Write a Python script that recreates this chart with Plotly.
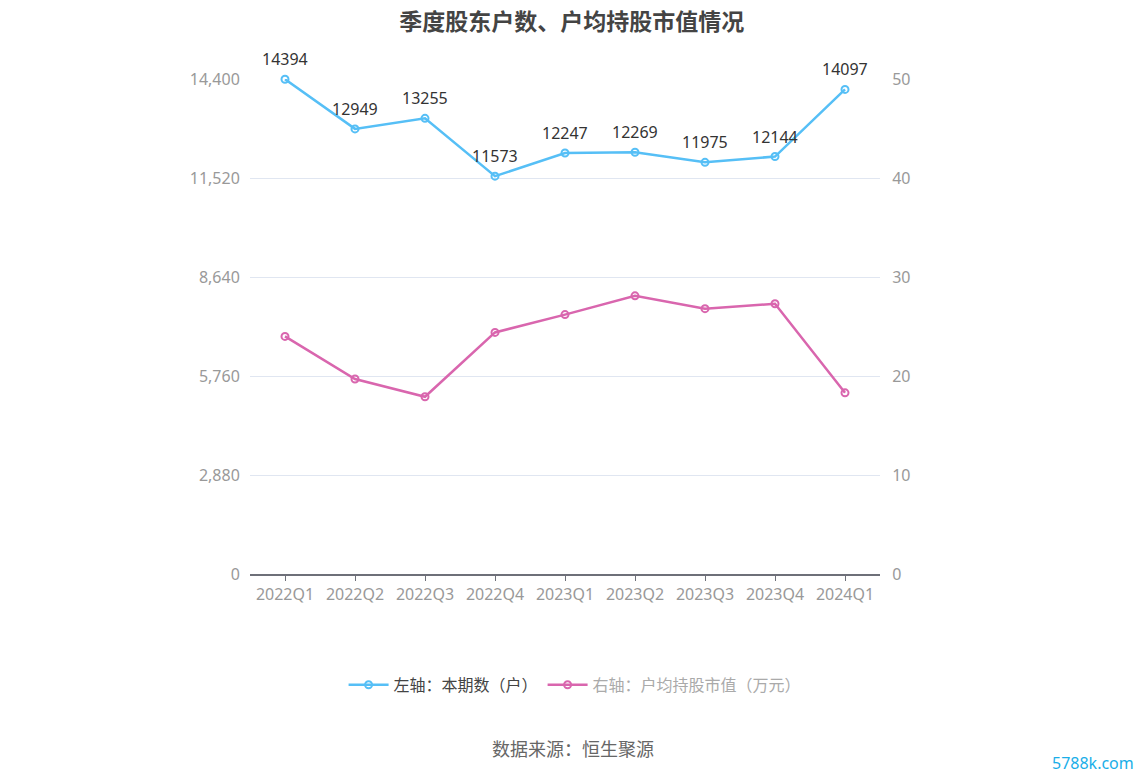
import plotly.graph_objects as go

quarters = ["2022Q1", "2022Q2", "2022Q3", "2022Q4", "2023Q1", "2023Q2", "2023Q3", "2023Q4", "2024Q1"]
holders = [14394, 12949, 13255, 11573, 12247, 12269, 11975, 12144, 14097]
avg_value = [24.0, 19.7, 17.9, 24.4, 26.2, 28.1, 26.8, 27.3, 18.3]
left_ticks = [0, 2880, 5760, 8640, 11520, 14400]
right_ticks = [0, 10, 20, 30, 40, 50]

font = "Noto Sans CJK SC"
num_font = "Noto Sans"
blue = "#56bff6"
pink = "#d966ae"

fig = go.Figure()
fig.add_trace(go.Scatter(
    x=quarters, y=holders, name="左轴：本期数（户）",
    mode="lines+markers",
    line=dict(color=blue, width=2.5),
    marker=dict(symbol="circle-open", size=7, color=blue, line=dict(width=2)),
    cliponaxis=False,
))
fig.add_trace(go.Scatter(
    x=quarters, y=avg_value, name="<span style='color:#aaa'>右轴：户均持股市值（万元）</span>",
    mode="lines+markers", yaxis="y2",
    line=dict(color=pink, width=2.5),
    marker=dict(symbol="circle-open", size=7, color=pink, line=dict(width=2)),
))

# data labels above the blue points
for q, v in zip(quarters, holders):
    fig.add_annotation(x=q, y=v, text=str(v), showarrow=False, yshift=20,
                       font=dict(size=16, color="#333", family=num_font))

fig.update_layout(
    width=1148, height=776,
    margin=dict(l=242, r=276, t=71, b=210),
    paper_bgcolor="white", plot_bgcolor="white",
    font=dict(family=font, size=15, color="#999"),
    title=dict(text="<b>季度股东户数、户均持股市值情况</b>", x=0.491, xanchor="center",
               y=0.982, yanchor="middle", font=dict(size=23, color="#444", family=font)),
    showlegend=True,
    legend=dict(orientation="h", x=0.516, xanchor="center", y=-0.224, yanchor="middle",
                font=dict(size=16, color="#444"), itemwidth=40),
    xaxis=dict(type="category", range=[-0.5, 8.5], showgrid=False,
               showline=True, linecolor="#6e7079", linewidth=1.5,
               ticks="outside", ticklen=5, tickcolor="#6e7079",
               tickfont=dict(size=16, color="#999", family=num_font)),
    yaxis=dict(range=[0, 14400], tickvals=left_ticks, tickformat=",",
               gridcolor="#e0e6f1", zeroline=False, showline=False,
               ticks="outside", ticklen=6, tickcolor="white",
               tickfont=dict(size=16, color="#999", family=num_font)),
    yaxis2=dict(range=[0, 50], tickvals=right_ticks, overlaying="y", side="right",
                showgrid=False, zeroline=False, showline=False,
                ticks="outside", ticklen=8, tickcolor="white",
                tickfont=dict(size=16, color="#999", family=num_font)),
)

fig.add_annotation(text="数据来源：恒生聚源", xref="paper", yref="paper", x=0.513, y=-0.352,
                   xanchor="center", yanchor="middle", showarrow=False,
                   font=dict(size=18, color="#666", family=font))
fig.add_annotation(text="5788k.com", xref="paper", yref="paper", x=1.406, y=-0.382,
                   xanchor="right", yanchor="middle", showarrow=False,
                   font=dict(size=16, color="#1aaee8", family=num_font))

fig.write_html("out.html")
